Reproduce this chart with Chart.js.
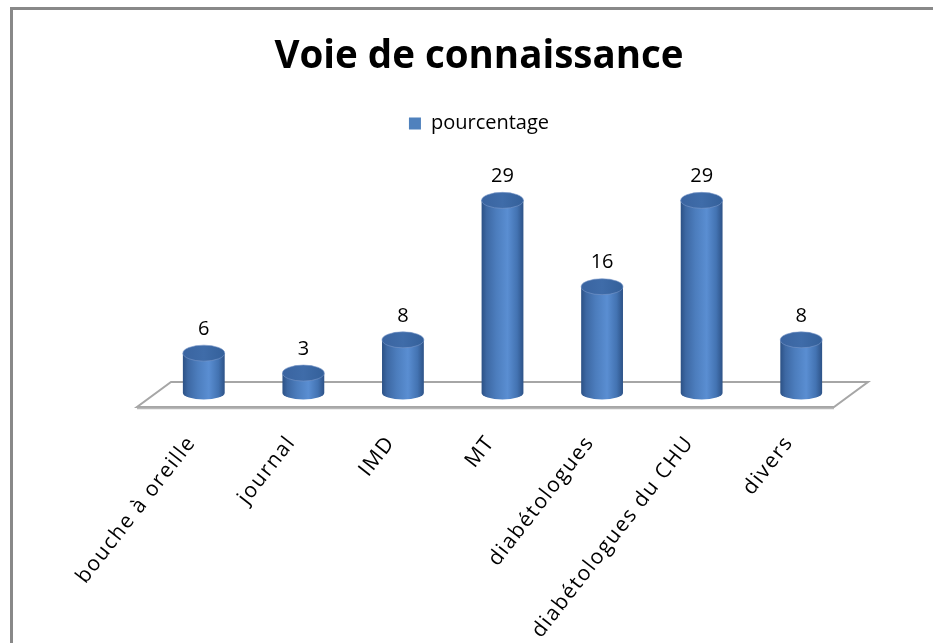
<!DOCTYPE html>
<html>
<head>
<meta charset="utf-8">
<script src="https://cdn.jsdelivr.net/npm/chart.js@4.4.1/dist/chart.umd.min.js"></script>
<style>
  html, body { margin:0; padding:0; background:#fff; width:933px; height:643px; overflow:hidden; }
  #frame { position:absolute; left:10px; top:7px; width:1000px; height:700px;
           border-left:3px solid #898989; border-top:3px solid #898989; }
  #wrap { position:absolute; left:0; top:0; width:933px; height:643px; }
</style>
</head>
<body>
<div id="frame"></div>
<div id="wrap"><canvas id="c" width="933" height="643"></canvas></div>
<script>
const categories = ["bouche à oreille", "journal", "IMD", "MT", "diabétologues", "diabétologues du CHU", "divers"];
const seriesName = "pourcentage";
const values = [6, 3, 8, 29, 16, 29, 8];
const yMax = 35;

const BAR_PCT = 0.42;

function barHalfWidth(chart) {
  const xs = chart.scales.x;
  return (xs.width / categories.length) * BAR_PCT / 2;
}

function bodyGradient(ctx2d, cx, hw) {
  const g = ctx2d.createLinearGradient(cx - hw, 0, cx + hw, 0);
  g.addColorStop(0.0, '#2C5185');
  g.addColorStop(0.12, '#3D68A3');
  g.addColorStop(0.35, '#4C7DBD');
  g.addColorStop(0.62, '#5A8ED2');
  g.addColorStop(0.85, '#4373B2');
  g.addColorStop(1.0, '#2D5287');
  return g;
}

const floorPlugin = {
  id: 'floor',
  beforeDatasetsDraw(chart) {
    const ctx = chart.ctx;
    const a = chart.chartArea;
    const base = chart.scales.y.getPixelForValue(0);
    const backY = base - 11, frontY = base + 14;
    const dx = 17;
    ctx.save();
    ctx.beginPath();
    ctx.moveTo(a.left + dx, backY);
    ctx.lineTo(a.right + dx, backY);
    ctx.lineTo(a.right - dx, frontY);
    ctx.lineTo(a.left - dx, frontY);
    ctx.closePath();
    ctx.fillStyle = '#ffffff';
    ctx.fill();
    ctx.lineWidth = 2;
    ctx.strokeStyle = '#A6A6A6';
    ctx.stroke();
    ctx.beginPath();
    ctx.moveTo(a.left - dx, frontY + 1.5);
    ctx.lineTo(a.right - dx, frontY + 1.5);
    ctx.strokeStyle = '#B8B8B8';
    ctx.lineWidth = 1.5;
    ctx.stroke();
    ctx.restore();
  }
};

const cylinderPlugin = {
  id: 'cylinder',
  afterDatasetsDraw(chart) {
    const ctx = chart.ctx;
    const meta = chart.getDatasetMeta(0);
    const hw = barHalfWidth(chart);
    const ryTop = 8, ryBot = 6.5;
    ctx.save();
    meta.data.forEach((el, i) => {
      const cx = el.x, top = el.y, base = el.base;
      ctx.beginPath();
      ctx.ellipse(cx, base, hw, ryBot, 0, 0, Math.PI);
      ctx.fillStyle = bodyGradient(ctx, cx, hw);
      ctx.fill();
      const g = ctx.createLinearGradient(cx - hw, top, cx + hw, top);
      g.addColorStop(0, '#3A64A0');
      g.addColorStop(0.5, '#3F6CA9');
      g.addColorStop(1, '#34609A');
      ctx.beginPath();
      ctx.ellipse(cx, top, hw, ryTop, 0, 0, Math.PI * 2);
      ctx.fillStyle = g;
      ctx.fill();
      ctx.strokeStyle = 'rgba(120,150,200,0.6)';
      ctx.lineWidth = 1;
      ctx.stroke();
      ctx.fillStyle = '#000';
      ctx.font = '20px "Open Sans"';
      ctx.textAlign = 'center';
      ctx.textBaseline = 'middle';
      ctx.fillText(String(values[i]), cx, top - 24);
    });
    ctx.restore();
  }
};

new Chart(document.getElementById('c'), {
  type: 'bar',
  data: {
    labels: categories,
    datasets: [{
      label: seriesName,
      data: values,
      backgroundColor: (c) => {
        const chart = c.chart;
        if (!chart.chartArea || c.dataIndex === undefined) return '#4F81BD';
        const cx = chart.scales.x.getPixelForValue(c.dataIndex);
        return bodyGradient(chart.ctx, cx, barHalfWidth(chart));
      },
      borderWidth: 0,
      barPercentage: BAR_PCT,
      categoryPercentage: 1.0
    }]
  },
  options: {
    responsive: false,
    animation: false,
    devicePixelRatio: 1,
    layout: { padding: { left: 107, right: 82, top: 0, bottom: 0 } },
    plugins: {
      title: {
        display: true,
        text: 'Voie de connaissance',
        color: '#000',
        font: { family: '"Open Sans"', size: 38.5, weight: 'bold', lineHeight: 1 },
        padding: { top: 38, bottom: 27 }
      },
      subtitle: {
        display: true,
        text: ' ',
        weight: 500,
        font: { size: 10, lineHeight: 1 },
        padding: { top: 0, bottom: 7 }
      },
      legend: {
        display: true,
        labels: {
          color: '#000',
          font: { family: '"Open Sans"', size: 20 },
          boxWidth: 12, boxHeight: 12,
          padding: 10,
          generateLabels: () => [{ text: seriesName, fillStyle: '#4F81BD', strokeStyle: '#4F81BD', lineWidth: 0 }]
        }
      },
      tooltip: { enabled: false }
    },
    scales: {
      x: {
        grid: { display: false, drawTicks: false },
        border: { display: false },
        ticks: {
          color: '#000',
          font: { family: '"Open Sans"', size: 21 },
          minRotation: 52, maxRotation: 52,
          autoSkip: false,
          padding: 38,
          labelOffset: -12
        },
        afterFit(scale) { scale.height = 250; },
        afterUpdate(scale) {
          if (!scale._spaced) {
            const orig = scale.drawLabels.bind(scale);
            scale.drawLabels = (area) => {
              scale.ctx.save();
              scale.ctx.letterSpacing = '1.5px';
              orig(area);
              scale.ctx.restore();
            };
            scale._spaced = true;
          }
        }
      },
      y: {
        display: true,
        min: 0, max: yMax,
        grid: { display: false },
        border: { display: false },
        ticks: { display: false },
        afterFit(scale) { scale.width = 47; }
      }
    }
  },
  plugins: [floorPlugin, cylinderPlugin]
});
</script>
</body>
</html>
